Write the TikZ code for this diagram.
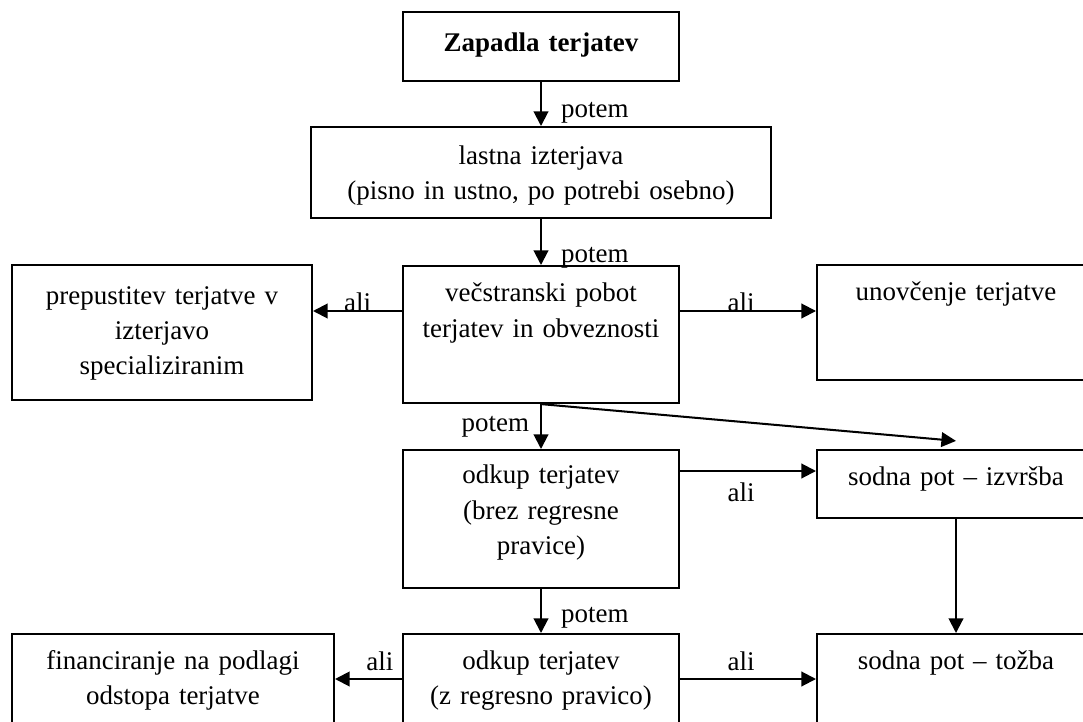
\documentclass[tikz,border=0pt]{standalone}
\usepackage{fontspec}
\setmainfont{Liberation Serif}
\usetikzlibrary{arrows.meta,calc}
\begin{document}
\begin{tikzpicture}[x=0.445pt,y=-0.445pt,line width=0.9pt,>={Triangle[length=6.5pt,width=6.5pt]},
	box/.style={draw,anchor=north,align=center,inner xsep=0pt,inner ysep=0pt,font=\fontsize{12pt}{15.6pt}\selectfont},
	lab/.style={inner sep=0pt,font=\fontsize{12pt}{14pt}\selectfont}]
		\useasboundingbox (0,0) rectangle (1083,721);
		\clip (0,0) rectangle (1083,721);
		% glavni stolpec
		\node[box,text width=122.8pt,text height=17.4pt,text depth=13.4pt] (zap) at (541,11) {\textbf{Zapadla terjatev}};
		\node[box,text width=204.3pt,text height=16.5pt,text depth=24pt] (last) at (541,126) {lastna izterjava\\(pisno in ustno, po potrebi osebno)};
		\node[box,text width=122.8pt,text height=16pt,text depth=45pt] (vec) at (541,265) {večstranski pobot\\terjatev in obveznosti};
		\node[box,text width=122.8pt,text height=15.1pt,text depth=46.3pt] (odkb) at (541,449) {odkup terjatev\\(brez regresne\\pravice)};
		\node[box,text width=122.8pt,text height=15.6pt,text depth=32pt] (odkz) at (541,633) {odkup terjatev\\(z regresno pravico)};
		% levo in desno
		\node[box,text width=133.5pt,text height=17.4pt,text depth=42.7pt] (prep) at (162,264) {prepustitev terjatve v\\izterjavo\\specializiranim};
		\node[box,text width=143.3pt,text height=15.6pt,text depth=32pt] (fin) at (173,633) {financiranje na podlagi\\odstopa terjatve};
		\node[box,text width=123.7pt,text height=16pt,text depth=35.2pt] (unov) at (956,264) {unovčenje terjatve};
		\node[box,text width=123.7pt,text height=16pt,text depth=14.2pt] (izvr) at (956,449) {sodna pot – izvršba};
		\node[box,text width=123.7pt,text height=15.6pt,text depth=32pt] (tozb) at (956,633) {sodna pot – tožba};
		% puscice
		\draw[->] (zap.south) -- (zap.south |- last.north) node[lab,pos=0.8,anchor=base west,xshift=8.5pt]{potem};
		\draw[->] (last.south) -- (vec.north) node[lab,pos=0.94,anchor=base west,xshift=8.5pt]{potem};
		\draw[->] (vec.south) -- (odkb.north) node[lab,pos=0.6,anchor=base east,xshift=-4.9pt]{potem};
		\draw[->] (odkb.south) -- (odkz.north) node[lab,pos=0.76,anchor=base west,xshift=8.5pt]{potem};
		\coordinate (vw) at ($(vec.north west)+(0,46)$);
		\coordinate (ve) at ($(vec.north east)+(0,46)$);
		\draw[->] (vw) -- (vw -| prep.east) node[lab,midway,anchor=base]{ali};
		\draw[->] (ve) -- (ve -| unov.west) node[lab,pos=0.45,anchor=base]{ali};
		\draw[->] (vec.south) -- ([yshift=3.6pt]izvr.north);
		\coordinate (ob) at ($(odkb.north east)+(0,22)$);
		\draw[->] (ob) -- (ob -| izvr.west) node[lab,pos=0.45,anchor=base,yshift=-13.4pt]{ali};
		\draw[->] (izvr.south) -- (tozb.north);
		\coordinate (zw) at ($(odkz.north west)+(0,46)$);
		\coordinate (ze) at ($(odkz.north east)+(0,46)$);
		\draw[->] (zw) -- (zw -| fin.east) node[lab,pos=0.33,anchor=base,yshift=4pt]{ali};
		\draw[->] (ze) -- (ze -| tozb.west) node[lab,pos=0.45,anchor=base,yshift=4pt]{ali};
\end{tikzpicture}
\end{document}
